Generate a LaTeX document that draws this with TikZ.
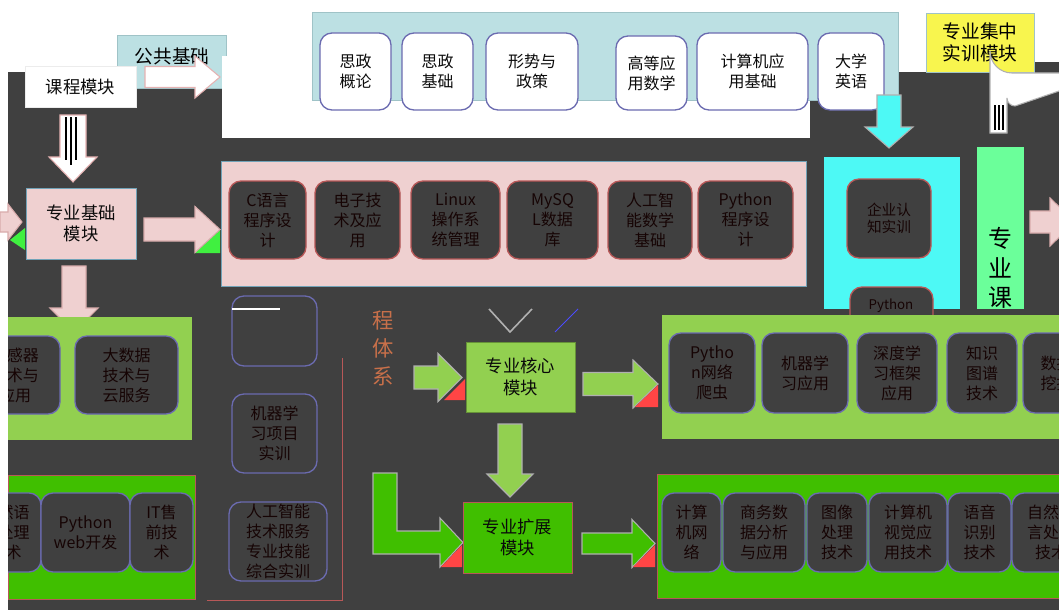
\documentclass[tikz,border=0pt]{standalone}
\usepackage{fontspec}
\setmainfont{Noto Sans CJK SC}
\definecolor{bgdark}{HTML}{404040}
\definecolor{ink}{HTML}{0A0A0A}
\definecolor{dink}{HTML}{160404}
\definecolor{lblue}{HTML}{BCE0E3}
\definecolor{lbluebd}{HTML}{9FC3C7}
\definecolor{pinkf}{HTML}{EFD0D0}
\definecolor{coreg}{HTML}{92D050}
\definecolor{brightg}{HTML}{40BF00}
\definecolor{cyanf}{HTML}{4DF9F5}
\definecolor{mintf}{HTML}{6BFF9A}
\definecolor{yellowf}{HTML}{F8F54E}
\definecolor{purplebd}{HTML}{6B6BB0}
\definecolor{redbd}{HTML}{B85858}
\definecolor{glitchred}{HTML}{FF4545}
\definecolor{glitchgreen}{HTML}{40F040}
\definecolor{txtorange}{HTML}{C8704A}
\definecolor{arrowbd}{HTML}{B0B0B0}
% box shape drawn as one node, its text as a second node on top
\newcommand\bx[7]{\node[#6,minimum width={((#4)-(#2))*0.75pt},minimum height={((#5)-(#3))*0.75pt}] (#1) at ({((#2)+(#4))/2},{((#3)+(#5))/2}) {};
  \node[boxtext] (#1-t) at (#1.center) {#7};}
\newcommand\dx[7]{\node[#6,minimum width={((#4)-(#2))*0.75pt},minimum height={((#5)-(#3))*0.75pt}] (#1) at ({((#2)+(#4))/2},{((#3)+(#5))/2}) {};
  \node[boxtext,text=dink] (#1-t) at (#1.center) {#7};}
\newcommand\mx[7]{\node[#6,minimum width={((#4)-(#2))*0.75pt},minimum height={((#5)-(#3))*0.75pt}] (#1) at ({((#2)+(#4))/2},{((#3)+(#5))/2}) {};
  \node[boxtext,font=\fontsize{13}{16}\selectfont] (#1-t) at (#1.center) {#7};}
% right arrow: style, x1, xbase, xtip, yc, shaft half, head half
\newcommand\rarr[7]{\filldraw[#1] (#2,#5-#6) -- (#3,#5-#6) -- (#3,#5-#7) -- (#4,#5) -- (#3,#5+#7) -- (#3,#5+#6) -- (#2,#5+#6) -- cycle;}
% down arrow: style, y1, ybase, ytip, xc, shaft half, head half
\newcommand\darr[7]{\filldraw[#1] (#5-#6,#2) -- (#5-#6,#3) -- (#5-#7,#3) -- (#5,#4) -- (#5+#7,#3) -- (#5+#6,#3) -- (#5+#6,#2) -- cycle;}
\tikzset{
  boxtext/.style={inner sep=0pt,align=center,text=ink,font=\fontsize{12}{15}\selectfont},
  panel/.style={rectangle,draw,line width=0.6pt,inner sep=0pt,outer sep=0pt},
  basebox/.style={rectangle,rounded corners=9pt,line width=1pt,inner sep=0pt,outer sep=0pt},
  tbox/.style={basebox,draw=purplebd,fill=white},
  dbox/.style={basebox,draw=purplebd,fill=bgdark},
  rbox/.style={basebox,draw=redbd,fill=bgdark},
  modbox/.style={rectangle,draw,line width=0.6pt,inner sep=0pt,outer sep=0pt},
  blockarrow/.style={draw=arrowbd,line width=0.8pt},
  lbl/.style={inner sep=0pt,align=center,font=\fontsize{13}{16}\selectfont}
}
\begin{document}
\begin{tikzpicture}[x=0.75pt,y=-0.75pt]
\useasboundingbox (0,0) rectangle (1059,610);
\fill[white] (0,0) rectangle (1059,610);
\fill[bgdark] (8,72) rectangle (1059,610);
\fill[bgdark] (1000,62) rectangle (1059,72);

% ---------- top row ----------
\bx{gjbox}{117}{35}{226}{88}{panel,draw=lbluebd,fill=lblue}{}
\node[lbl,font=\fontsize{14}{16}\selectfont] (gjtxt) at (172,56) {公共基础};
\mx{kcmk}{25}{66}{136}{107}{modbox,draw=white!85!gray,fill=white}{课程模块}
\rarr{blockarrow,draw=pink!80!gray,fill=white}{145}{195}{220}{77}{10.5}{21}
\fill[white] (222,56) rectangle (313,138);
\fill[white] (313,98) rectangle (810,138);
\bx{gjpanel}{312}{12}{898}{100}{panel,draw=lbluebd,fill=lblue}{}
\bx{t1}{320}{33}{391}{110}{tbox}{思政\\概论}
\bx{t2}{402}{33}{473}{110}{tbox}{思政\\基础}
\bx{t3}{486}{33}{578}{110}{tbox}{形势与\\政策}
\bx{t4}{616}{36}{687}{110}{tbox}{高等应\\用数学}
\bx{t5}{697}{33}{808}{110}{tbox}{计算机应\\用基础}
\bx{t6}{818}{33}{884}{110}{tbox}{大学\\英语}
\node[modbox,draw=lbluebd,fill=yellowf,minimum width=81pt,minimum height=44.25pt] (sxmk) at (980,42.5) {};
\node[inner sep=0pt,align=center,font=\fontsize{14}{17}\selectfont] (sxmk-t) at (sxmk.center) {专业集中\\实训模块};

% bent white arrow top right
\filldraw[blockarrow,fill=white] (1062,73) -- (1012,73) arc[start angle=90,end angle=180,radius=22] -- (990,133) -- (1007,133) -- (1007,98) arc[start angle=180,end angle=90,radius=8] -- (1062,90) -- cycle;
\draw[black,line width=1.2pt] (995,105) -- (995,130) (999,105) -- (999,130) (1003,105) -- (1003,130);
% cyan down arrow
\darr{blockarrow,fill=cyanf}{95}{127}{148}{889}{12}{24}
% white down arrow from 课程模块
\darr{blockarrow,draw=pink!80!gray,fill=white}{115}{157}{182}{73}{13}{24}
\draw[black,line width=1.1pt] (66,117) -- (66,160) (71,117) -- (71,165) (76,117) -- (76,160);

% ---------- second row ----------
\fill[glitchgreen] (10,240) -- (25,228) -- (25,250) -- cycle;
\rarr{blockarrow,draw=pink!70!gray,fill=pinkf}{0}{8}{22}{222}{10}{18}
\mx{zyjc}{26}{188}{136}{259}{modbox,draw=cyan!40!gray,fill=pinkf}{专业基础\\模块}
\fill[glitchgreen] (195,253) -- (220,230) -- (220,253) -- cycle;
\rarr{blockarrow,draw=pink!70!gray,fill=pinkf}{144}{195}{220}{229.5}{11.5}{23}
\bx{jcpanel}{221}{161}{806}{286}{panel,draw=cyan!40!gray,fill=pinkf}{}
\dx{p1}{229}{181}{306}{259}{rbox}{C语言\\程序设\\计}
\dx{p2}{315}{181}{400}{259}{rbox}{电子技\\术及应\\用}
\dx{p3}{411}{181}{500}{259}{rbox}{Linux\\操作系\\统管理}
\dx{p4}{507}{181}{598}{259}{rbox}{MySQ\\L数据\\库}
\dx{p5}{608}{181}{692}{259}{rbox}{人工智\\能数学\\基础}
\dx{p6}{698}{181}{793}{259}{rbox}{Python\\程序设\\计}

% cyan block
\bx{cypanel}{824}{157}{959}{308}{panel,draw=cyanf,fill=cyanf}{}
\node[basebox,draw=redbd,fill=bgdark,minimum width=63pt,minimum height=59.25pt] (qy) at (889,218.5) {};
\node[inner sep=0pt,align=center,text=dink,font=\fontsize{11}{13}\selectfont] (qy-t) at (qy.center) {企业认\\知实训};
\node[basebox,draw=redbd,fill=bgdark,minimum width=62.25pt,minimum height=43.5pt] (pyb) at (891.5,316) {};
\node[inner sep=0pt,text=dink,font=\fontsize{10}{12}\selectfont] (pyb-t) at (891,306) {Python};
\bx{mint}{977}{147}{1023}{308}{panel,draw=mintf,fill=mintf}{}
\node[inner sep=0pt,align=center,font=\fontsize{18}{22}\selectfont] (zyk) at (1000,268) {专\\业\\课};
\rarr{blockarrow,draw=pink!70!gray,fill=pinkf}{1030}{1050}{1075}{222}{11}{24}

% pink down arrow
\darr{blockarrow,draw=pink!70!gray,fill=pinkf}{266}{308}{332}{74}{12}{24}

% ---------- third row left ----------
\begin{scope}
\clip (8,0) rectangle (1059,610);
\bx{lgpanel}{8}{317}{191}{439}{panel,draw=coreg,fill=coreg}{}
\dx{l1}{-30}{336}{60}{414}{dbox}{传感器\\技术与\\应用}
\dx{l2}{75}{336}{178}{414}{dbox}{大数据\\技术与\\云服务}
\bx{lbpanel}{8}{475}{195}{599}{panel,draw=redbd,fill=brightg}{}
\dx{b0}{-30}{493}{41}{572}{dbox}{自然语\\言处理\\技术}
\end{scope}
\dx{b1}{41}{493}{130}{572}{dbox}{Python\\web开发}
\dx{b2}{130}{493}{193}{572}{dbox}{IT售\\前技\\术}

% middle training column
\bx{m0}{232}{296}{317}{366}{dbox}{}
\draw[white,line width=1pt] (232,309) -- (280,309);
\dx{m1}{232}{394}{317}{473}{dbox}{机器学\\习项目\\实训}
\dx{m2}{229}{502}{327}{581}{dbox}{人工智能\\技术服务\\专业技能\\综合实训}
\draw[redbd,line width=0.7pt] (342,358) -- (342,600) -- (207,600);
\node[inner sep=0pt,align=center,text=txtorange,font=\fontsize{16}{21}\selectfont] (tx) at (383,348) {程\\体\\系};

% core module
\draw[arrowbd,line width=1.2pt] (489,309) -- (510,332) -- (532,309);
\draw[blue!70,line width=0.6pt] (555,332) -- (578,309);
\rarr{blockarrow,fill=coreg}{414}{438}{462}{377.5}{11.5}{24}
\fill[glitchred] (444,400) -- (465,379) -- (465,400) -- cycle;
\mx{hx}{466}{342}{575}{412}{modbox,draw=coreg!70!black,fill=coreg}{专业核心\\模块}
\rarr{blockarrow,fill=coreg}{583}{633}{658}{384}{11.5}{24}
\fill[glitchred] (635,407) -- (658,385) -- (658,407) -- cycle;
\bx{rgpanel}{662}{315}{1070}{438}{panel,draw=coreg,fill=coreg}{}
\dx{r1}{669}{333}{755}{413}{dbox}{Pytho\\n网络\\爬虫}
\dx{r2}{762}{333}{848}{413}{dbox}{机器学\\习应用}
\dx{r3}{857}{333}{937}{413}{dbox}{深度学\\习框架\\应用}
\dx{r4}{947}{333}{1017}{413}{dbox}{知识\\图谱\\技术}
\dx{r5}{1023}{333}{1090}{413}{dbox}{数据\\挖掘}

% extension module
\darr{blockarrow,fill=coreg}{424}{474}{497}{510}{12}{23}
\filldraw[blockarrow,fill=brightg] (373,473) -- (397,473) -- (397,531) -- (440,531) -- (440,518) -- (463,542.5) -- (440,567) -- (440,554) -- (373,554) -- cycle;
\fill[glitchred] (441,567) -- (462,545) -- (462,567) -- cycle;
\mx{kz}{463}{502}{572}{573}{modbox,draw=redbd,fill=brightg}{专业扩展\\模块}
\rarr{blockarrow,fill=brightg}{582}{632}{655}{543.5}{10.5}{24}
\fill[glitchred] (633,567) -- (655,545) -- (655,567) -- cycle;
\bx{bgpanel}{657}{474}{1070}{598}{panel,draw=redbd,fill=brightg}{}
\dx{e1}{662}{493}{721}{572}{dbox}{计算\\机网\\络}
\dx{e2}{723}{493}{805}{572}{dbox}{商务数\\据分析\\与应用}
\dx{e3}{807}{493}{867}{572}{dbox}{图像\\处理\\技术}
\dx{e4}{869}{493}{947}{572}{dbox}{计算机\\视觉应\\用技术}
\dx{e5}{948}{493}{1011}{572}{dbox}{语音\\识别\\技术}
\dx{e6}{1012}{493}{1090}{572}{dbox}{自然语\\言处理\\技术}
\end{tikzpicture}
\end{document}
